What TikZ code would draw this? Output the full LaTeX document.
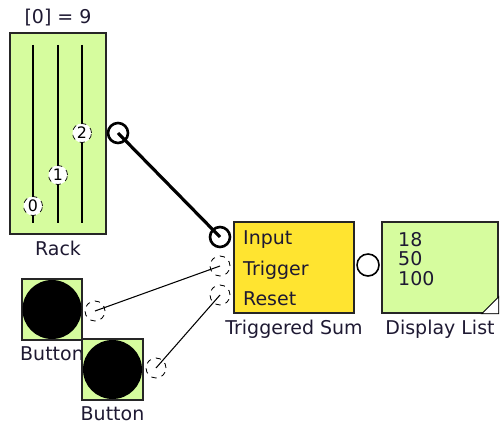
\documentclass[tikz,border=0pt]{standalone}
\usepackage{fontspec}
\setmainfont{DejaVu Sans}
\usetikzlibrary{arrows.meta,calc}
\usepackage{xcolor}
\definecolor{blockgreen}{RGB}{214,252,158}
\definecolor{blockyellow}{RGB}{255,228,48}
\definecolor{labelink}{RGB}{30,25,50}

\begin{document}
\begin{tikzpicture}[x=0.02cm, y=-0.02cm, font=\fontsize{10.8}{12}\selectfont,
  block/.style={draw=black!85, line width=0.8pt, inner sep=0pt},
  port/.style={circle, draw, fill=white, minimum size=0.4cm, inner sep=0pt},
  freeport/.style={port, dashed, line width=0.5pt},
  boldport/.style={port, minimum size=0.4cm, line width=1.5pt},
  knob/.style={circle, draw, dashed, fill=white, minimum size=0.38cm, inner sep=0pt, font=\fontsize{9}{10}\selectfont},
  tag/.style={text=labelink}]
\useasboundingbox (0,0) rectangle (502,425);
\node[block, fill=blockgreen, minimum width=1.92cm, minimum height=4.02cm] (rack) at (58,133.5) {};
\node[tag, above=0pt] (racktitle) at (rack.north) {[0] = 9};
\node[tag, below=0pt] (racklabel) at (rack.south) {Rack};
\foreach \x/\y/\k in {33/206/0, 58/175/1, 82/133/2}
  {\draw[line width=0.8pt] (\x,45) -- (\x,223);
   \node[knob] (knob\k) at (\x,\y) {\k};}
\node[block, fill=blockyellow, minimum width=2.4cm, minimum height=1.82cm] (sum) at (294,267.5) {};
\node[tag, anchor=west] (inlab) at (237,240) {Input};
\node[tag, anchor=west] (triglab) at (237,270) {Trigger};
\node[tag, anchor=west] (resetlab) at (237,299) {Reset};
\node[tag, below=0pt] (sumlabel) at (sum.south) {Triggered Sum};
\node[block, fill=blockgreen, minimum width=2.32cm, minimum height=1.82cm] (disp) at (440,267.5) {};
\draw[fill=white, line width=0.5pt] (disp.south east) -- ++(-17,0) -- ++(17,-17) -- cycle;
\node[tag, anchor=west, align=left, font=\fontsize{10.8}{11.3}\selectfont] (values) at (392,259) {18\\50\\100};
\node[tag, below=0pt] (displabel) at (disp.south) {Display List};
\node[block, fill=blockgreen, minimum width=1.2cm, minimum height=1.22cm] (btnA) at (52,309.5) {};
\fill (btnA.center) circle (29.5);
\node[tag, below=0pt] (btnAlabel) at (btnA.south) {Button};
\node[block, fill=blockgreen, minimum width=1.22cm, minimum height=1.22cm] (btnB) at (112.5,369.5) {};
\fill (btnB.center) circle (29.5);
\node[tag, below=0pt] (btnBlabel) at (btnB.south) {Button};
\node[boldport] (rackout) at (118,133) {};
\node[boldport] (in) at (220,237) {};
\node[freeport] (trig) at (220,266) {};
\node[freeport] (reset) at (220,295) {};
\node[port, line width=0.9pt, minimum size=0.44cm] (sumout) at (368,265) {};
\node[freeport] (btnAout) at (95,311) {};
\node[freeport] (btnBout) at (156,368) {};
\draw[line width=1.8pt] (rackout.center) -- (in.center);
\draw[line width=0.6pt] (btnAout.center) -- (trig.center);
\draw[line width=0.6pt] (btnBout.center) -- (reset.center);
\end{tikzpicture}
\end{document}
